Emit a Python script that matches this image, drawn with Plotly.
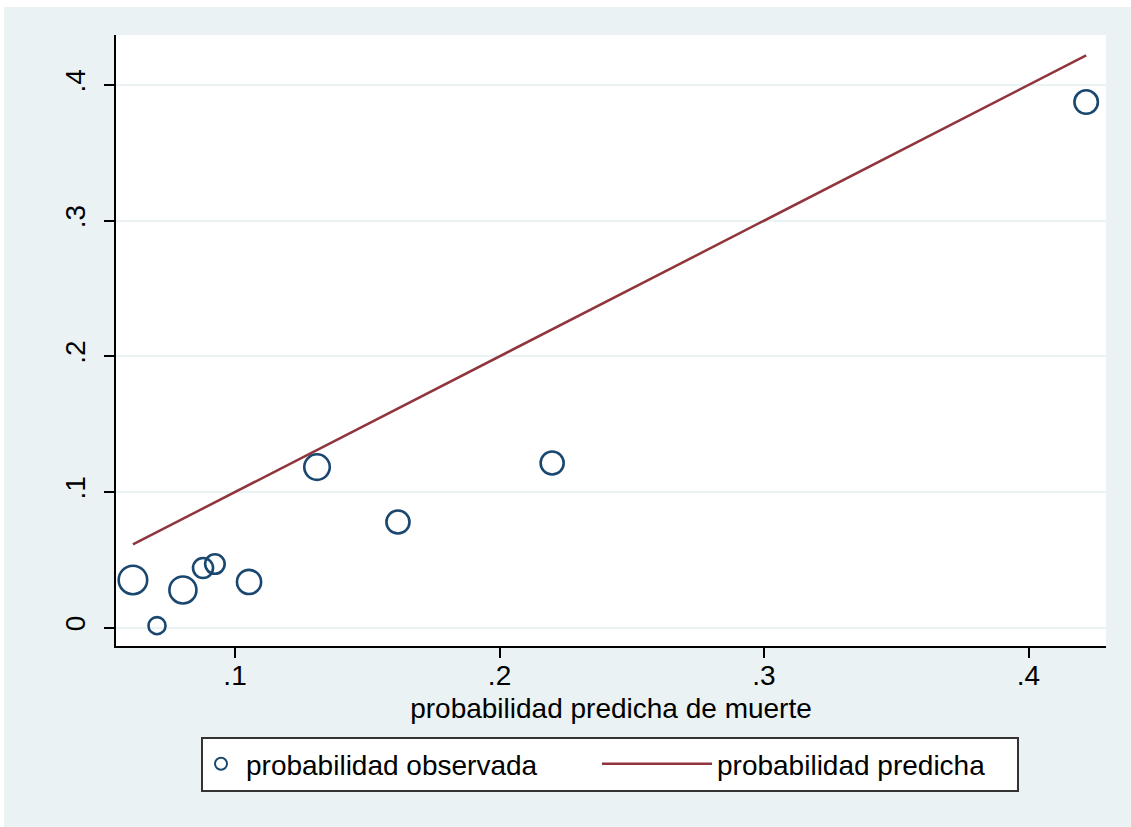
import plotly.graph_objects as go

# ---- data ----
prob_predicha = [0.0614, 0.0705, 0.0803, 0.0879, 0.0924, 0.1053, 0.1310, 0.1616, 0.2199, 0.4218]
prob_observada = [0.0352, 0.0015, 0.0278, 0.0440, 0.0469, 0.0337, 0.1184, 0.0779, 0.1214, 0.3875]
n_grupo = [81, 29, 73, 40, 38, 58, 65, 53, 53, 55]

x_ticks = [0.1, 0.2, 0.3, 0.4]
x_ticklabels = [".1", ".2", ".3", ".4"]
y_ticks = [0, 0.1, 0.2, 0.3, 0.4]
y_ticklabels = ["0", ".1", ".2", ".3", ".4"]

x_title = "probabilidad predicha de muerte"
name_obs = "probabilidad observada"
name_pred = "probabilidad predicha"

# ---- style ----
FONT = "Liberation Sans, Arial, Helvetica, sans-serif"
FS = 28
NAVY = "#1A476F"
MAROON = "#90353B"
BG = "#EAF2F3"

W, H = 1131, 827
ML, MR, MT, MB = 116, 25, 35, 181
PW = W - ML - MR
PH = H - MT - MB


def px_x(p):
    return (p - ML) / PW


def px_y(p):
    return (H - MB - p) / PH


fig = go.Figure()

fig.add_trace(go.Scatter(
    x=prob_predicha, y=prob_observada, mode="markers", name=name_obs,
    legend="legend",
    marker=dict(symbol="circle-open", size=n_grupo, sizemode="area", sizeref=0.1995,
                opacity=1, color=NAVY, line=dict(width=2.6, color=NAVY)),
))

fig.add_trace(go.Scatter(
    x=prob_predicha, y=prob_predicha, mode="lines", name=name_pred,
    legend="legend2",
    line=dict(color=MAROON, width=2.5),
))

shapes = [
    # white screenshot edges
    dict(type="rect", xref="paper", yref="paper", x0=px_x(0), x1=px_x(4), y0=px_y(H), y1=px_y(0),
         fillcolor="white", line=dict(width=0), layer="below"),
    dict(type="rect", xref="paper", yref="paper", x0=px_x(0), x1=px_x(W), y0=px_y(7), y1=px_y(0),
         fillcolor="white", line=dict(width=0), layer="below"),
    # legend box
    dict(type="rect", xref="paper", yref="paper", x0=px_x(202), x1=px_x(1018), y0=px_y(791), y1=px_y(738),
         fillcolor="white", line=dict(width=2, color="#333333"), layer="below"),
]

legend_common = dict(
    orientation="h", yanchor="middle", xanchor="left", y=px_y(764),
    bgcolor="rgba(0,0,0,0)", borderwidth=0,
    font=dict(family=FONT, size=FS, color="black"),
)

fig.update_layout(
    width=W, height=H,
    margin=dict(l=ML, r=MR, t=MT, b=MB, pad=0),
    paper_bgcolor=BG, plot_bgcolor="white",
    font=dict(family=FONT, size=FS, color="black"),
    showlegend=True,
    legend=dict(legend_common, x=px_x(196), itemwidth=40, itemsizing="constant"),
    legend2=dict(legend_common, x=px_x(597), itemwidth=110),
    shapes=shapes,
    xaxis=dict(
        range=[0.055, 0.4293], tickvals=x_ticks, ticktext=x_ticklabels,
        showgrid=False, zeroline=False, showline=True, linecolor="black", linewidth=1.5,
        ticks="outside", ticklen=10, tickwidth=1.5, tickcolor="black",
        tickfont=dict(family=FONT, size=FS, color="black"),
        ticklabelstandoff=-6,
        title=dict(text=x_title, font=dict(family=FONT, size=FS, color="black"), standoff=8),
    ),
    yaxis=dict(
        range=[-0.0135, 0.4369], tickvals=y_ticks, ticktext=y_ticklabels, tickangle=-90,
        showgrid=True, gridcolor=BG, gridwidth=2, zeroline=False,
        showline=True, linecolor="black", linewidth=1.5,
        ticks="outside", ticklen=10, tickwidth=1.5, tickcolor="black",
        tickfont=dict(family=FONT, size=FS, color="black"),
        ticklabelstandoff=8,
    ),
)

fig.write_html("out.html")
